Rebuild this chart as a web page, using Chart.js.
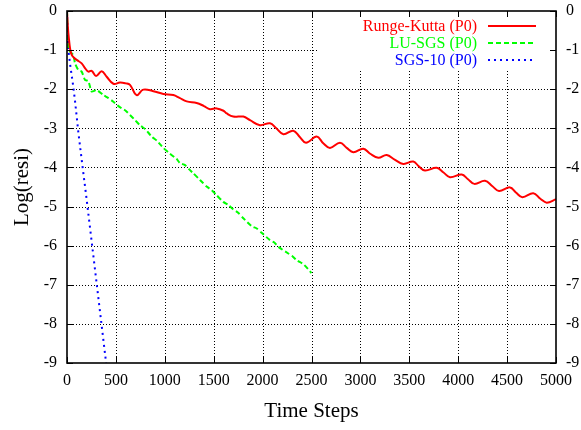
<!DOCTYPE html>
<html>
<head>
<meta charset="utf-8">
<script src="https://cdn.jsdelivr.net/npm/chart.js@4/dist/chart.umd.min.js"></script>
<style>
html,body{margin:0;padding:0;background:#fff;}
#wrap{width:581px;height:430px;}
</style>
</head>
<body>
<div id="wrap"><canvas id="c" width="581" height="430"></canvas></div>
<script>
const seriesLabels = ['Runge-Kutta (P0)', 'LU-SGS (P0)', 'SGS-10 (P0)'];
const seriesColors = ['#ff0000', '#00ff00', '#0000ff'];

const rkSteps = [0,10,20,31,48,75,99,150,190,218,252,297,355,406,474,542,600,644,712,780,883,985,1087,1150,1224,1326,1400,1462,1530,1600,1633,1700,1803,1871,1973,2076,2140,2212,2314,2380,2444,2553,2620,2689,2791,2860,2928,3030,3100,3183,3269,3350,3439,3541,3600,3661,3780,3850,3916,4036,4100,4165,4274,4350,4417,4530,4590,4656,4768,4840,4905,5000];
const rkValues = [0,-0.45,-0.72,-0.95,-1.12,-1.2,-1.25,-1.34,-1.48,-1.55,-1.53,-1.66,-1.54,-1.68,-1.86,-1.83,-1.85,-1.89,-2.15,-2.01,-2.05,-2.12,-2.15,-2.22,-2.31,-2.35,-2.43,-2.51,-2.49,-2.55,-2.62,-2.70,-2.70,-2.79,-2.92,-2.87,-3.0,-3.15,-3.06,-3.22,-3.37,-3.21,-3.38,-3.50,-3.37,-3.50,-3.61,-3.52,-3.65,-3.75,-3.68,-3.80,-3.91,-3.85,-3.98,-4.08,-4.01,-4.13,-4.25,-4.18,-4.30,-4.42,-4.34,-4.48,-4.60,-4.51,-4.64,-4.76,-4.66,-4.80,-4.90,-4.81];

const luSteps = [0,14,31,65,82,116,150,184,218,252,304,371,420,474,520,559,600,644,700,746,800,866,920,985,1053,1120,1155,1207,1250,1292,1360,1428,1480,1530,1598,1650,1700,1750,1803,1888,1940,1990,2076,2120,2161,2263,2300,2348,2420,2500];
const luValues = [0,-0.95,-1.04,-1.13,-1.34,-1.51,-1.55,-1.76,-1.79,-2.06,-2.02,-2.15,-2.22,-2.32,-2.42,-2.49,-2.55,-2.66,-2.80,-2.92,-3.02,-3.21,-3.32,-3.50,-3.65,-3.78,-3.89,-3.94,-4.05,-4.15,-4.32,-4.49,-4.58,-4.71,-4.88,-4.96,-5.07,-5.16,-5.30,-5.50,-5.56,-5.67,-5.86,-5.92,-6.03,-6.20,-6.26,-6.37,-6.48,-6.70];

const sgsSteps = [0,7,14,31,48,65,82,99,116,150,200,250,300,350,400];
const sgsValues = [0,-0.6,-1.0,-1.35,-1.65,-1.95,-2.3,-2.7,-3.1,-3.8,-4.8,-5.85,-6.9,-7.95,-9.0];

const xTickStep = 500;
const yTickStep = 1;

function zip(xs, ys){ return xs.map((x,i)=>({x:x, y:ys[i]})); }

const FONT = '"Liberation Serif", "Times New Roman", serif';

const gridPlugin = {
  id: 'gnuGrid',
  beforeDatasetsDraw(chart){
    const {ctx, chartArea:a, scales} = chart;
    ctx.save();
    ctx.strokeStyle = '#000';
    ctx.lineWidth = 1;
    ctx.setLineDash([1,2]);
    scales.x.ticks.forEach(t=>{
      if (t.value <= scales.x.min || t.value >= scales.x.max) return;
      const px = Math.round(scales.x.getPixelForValue(t.value)) + 0.5;
      ctx.beginPath(); ctx.moveTo(px, a.bottom); ctx.lineTo(px, a.top); ctx.stroke();
    });
    scales.y.ticks.forEach(t=>{
      if (t.value <= scales.y.min || t.value >= scales.y.max) return;
      const py = Math.round(scales.y.getPixelForValue(t.value)) + 0.5;
      ctx.beginPath(); ctx.moveTo(a.left, py); ctx.lineTo(a.right, py); ctx.stroke();
    });
    ctx.setLineDash([]);
    ctx.fillStyle = '#fff';
    ctx.fillRect(318, a.top+1, a.right-318-1, 59);
    ctx.restore();
  },
  afterDatasetsDraw(chart){
    const {ctx, chartArea:a, scales} = chart;
    ctx.save();
    ctx.strokeStyle = '#000';
    ctx.lineWidth = 1;
    const L = 6;
    scales.x.ticks.forEach(t=>{
      const px = Math.round(scales.x.getPixelForValue(t.value)) + 0.5;
      ctx.beginPath();
      ctx.moveTo(px, a.bottom); ctx.lineTo(px, a.bottom - L);
      ctx.moveTo(px, a.top); ctx.lineTo(px, a.top + L);
      ctx.stroke();
    });
    scales.y.ticks.forEach(t=>{
      const py = Math.round(scales.y.getPixelForValue(t.value)) + 0.5;
      ctx.beginPath();
      ctx.moveTo(a.left, py); ctx.lineTo(a.left + L, py);
      ctx.moveTo(a.right, py); ctx.lineTo(a.right - L, py);
      ctx.stroke();
    });
    ctx.lineWidth = 1.6;
    ctx.strokeRect(a.left, a.top, a.right - a.left, a.bottom - a.top);
    ctx.font = '16px ' + FONT;
    ctx.textAlign = 'right';
    ctx.textBaseline = 'middle';
    const ys = [26, 43, 60];
    chart.data.datasets.forEach((ds, i)=>{
      ctx.fillStyle = ds.borderColor;
      ctx.fillText(ds.label, 477, ys[i] + 1);
      ctx.strokeStyle = ds.borderColor;
      ctx.lineWidth = 2;
      ctx.setLineDash(ds.borderDash || []);
      ctx.beginPath(); ctx.moveTo(488, ys[i]); ctx.lineTo(536, ys[i]); ctx.stroke();
    });
    ctx.restore();
  }
};

function noPad(s){ s.paddingTop = 0; s.paddingBottom = 0; s.paddingLeft = 0; s.paddingRight = 0; }

new Chart(document.getElementById('c'), {
  type: 'line',
  data: {
    datasets: [
      { label: seriesLabels[0], data: zip(rkSteps, rkValues), borderColor: seriesColors[0], borderWidth: 2, pointRadius: 0, tension: 0.4, fill: false },
      { label: seriesLabels[1], data: zip(luSteps, luValues), borderColor: seriesColors[1], borderWidth: 2, borderDash: [5,3], pointRadius: 0, tension: 0.2, fill: false },
      { label: seriesLabels[2], data: zip(sgsSteps, sgsValues), borderColor: seriesColors[2], borderWidth: 2, borderDash: [2,4], pointRadius: 0, tension: 0, fill: false }
    ]
  },
  options: {
    responsive: false,
    animation: false,
    devicePixelRatio: 1,
    layout: { padding: { top: 11, left: 0, right: 0, bottom: 0 } },
    plugins: { legend: { display: false }, tooltip: { enabled: false } },
    scales: {
      x: {
        type: 'linear', min: 0, max: 5000, position: 'bottom',
        ticks: { stepSize: xTickStep, color: '#000', font: { family: FONT, size: 16 }, padding: 8, maxRotation: 0, callback: v => String(v) },
        grid: { display: false, drawTicks: false },
        border: { display: false },
        title: { display: true, text: 'Time Steps', color: '#000', font: { family: FONT, size: 21 }, padding: { top: 0, bottom: 6 } },
        afterFit(s){ s.height = 67; noPad(s); }
      },
      y: {
        type: 'linear', min: -9, max: 0, position: 'left',
        ticks: { stepSize: yTickStep, color: '#000', font: { family: FONT, size: 16 }, padding: 10, callback: v => String(v) },
        grid: { display: false, drawTicks: false },
        border: { display: false },
        title: { display: true, text: 'Log(resi)', color: '#000', font: { family: FONT, size: 21 }, padding: { top: 10, bottom: 0 } },
        afterFit(s){ s.width = 67; noPad(s); }
      },
      y2: {
        type: 'linear', min: -9, max: 0, position: 'right',
        ticks: { stepSize: yTickStep, color: '#000', font: { family: FONT, size: 16 }, padding: 10, callback: v => String(v) },
        grid: { display: false, drawTicks: false },
        border: { display: false },
        afterFit(s){ s.width = 25; noPad(s); }
      }
    }
  },
  plugins: [gridPlugin]
});
</script>
</body>
</html>
